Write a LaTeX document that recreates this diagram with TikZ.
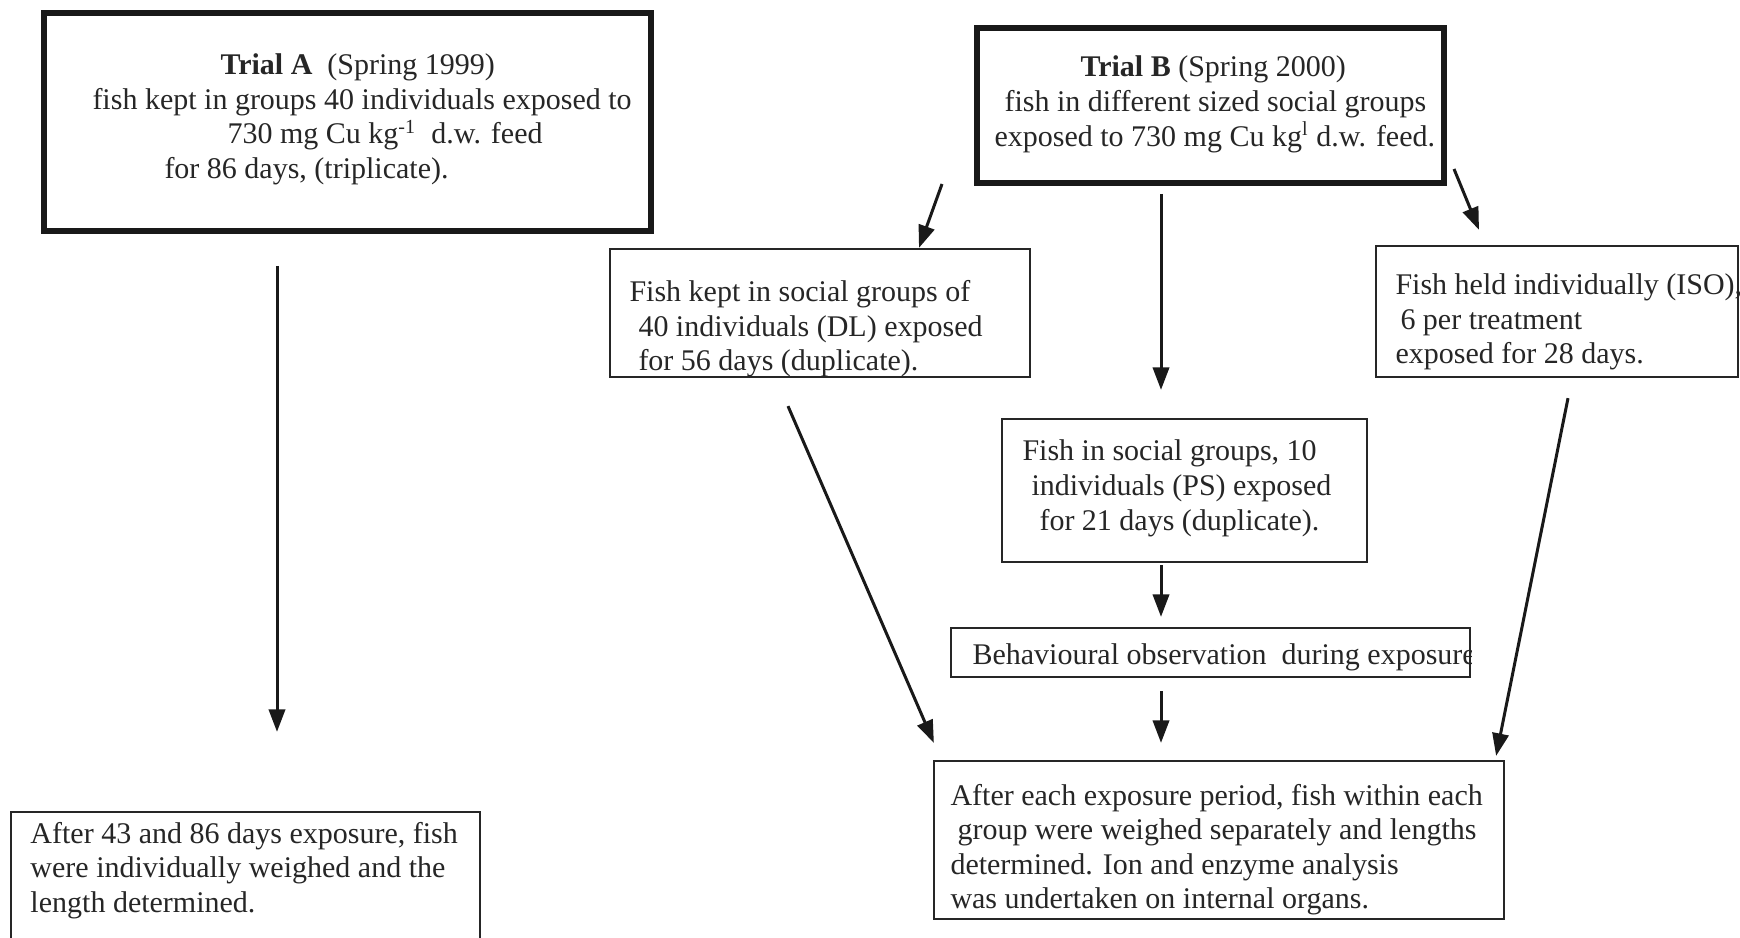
\documentclass[tikz,border=0pt]{standalone}
\usepackage{fontspec}
\setmainfont{Liberation Serif}
\usetikzlibrary{arrows.meta}
\begin{document}
\begin{tikzpicture}[x=0.4pt,y=-0.4pt,
  thickbox/.style={draw=black!90, line width=2.4pt, inner sep=0pt},
  thinbox/.style={draw=black!85, line width=0.9pt, inner sep=0pt},
  txt/.style={inner sep=0pt, anchor=base west, font=\fontsize{12}{13.8}\selectfont, text=black!85},
  arr/.style={draw=black!90, line width=1.2pt, -{Triangle[length=9pt,width=6.5pt]}}]
\useasboundingbox (0,0) rectangle (1740,938);
\clip (0,0) rectangle (1740,938);
% boxes
\node[thickbox, minimum width=242.8pt, minimum height=87.2pt] (TA) at (347.5,122) {};
\node[thickbox, minimum width=186.8pt, minimum height=62pt] (TB) at (1210.5,105.5) {};
\node[thinbox, minimum width=168pt, minimum height=51.2pt] (DL) at (820,313) {};
\node[thinbox, minimum width=144.8pt, minimum height=52.4pt] (ISO) at (1557,311.5) {};
\node[thinbox, minimum width=146pt, minimum height=57.2pt] (PS) at (1184.5,490.5) {};
\node[thinbox, minimum width=207.6pt, minimum height=19.6pt] (Bh) at (1210.5,652.5) {};
\node[thinbox, minimum width=228pt, minimum height=63.2pt] (FR) at (1219,840) {};
\node[thinbox, minimum width=187.6pt, minimum height=59.2pt] (FL) at (245.5,886) {};
% texts
\node[txt] (tA) at (92,75) {\begin{tabular}[t]{@{}l@{}}\hspace*{51.2pt}\textbf{Trial A}\ \ (Spring 1999)\\
fish kept in groups 40 individuals exposed to\\
\hspace*{54pt}730 mg Cu kg\textsuperscript{-1}\ \ d.w. feed\\
\hspace*{28.8pt}for 86 days, (triplicate).\end{tabular}};
\node[txt] (tB) at (994,77) {\begin{tabular}[t]{@{}l@{}}\hspace*{34.4pt}\textbf{Trial B} (Spring 2000)\\
\hspace*{4pt}fish in different sized social groups\\
exposed to 730 mg Cu kg\textsuperscript{l} d.w. feed.\end{tabular}};
\node[txt] (tDL) at (629,302) {\begin{tabular}[t]{@{}l@{}}Fish kept in social groups of\\
\hspace*{3.6pt}40 individuals (DL) exposed\\
\hspace*{3.6pt}for 56 days (duplicate).\end{tabular}};
\node[txt] (tISO) at (1395,295) {\begin{tabular}[t]{@{}l@{}}Fish held individually (ISO),\\
\hspace*{2pt}6 per treatment\\
exposed for 28 days.\end{tabular}};
\node[txt] (tPS) at (1022,461) {\begin{tabular}[t]{@{}l@{}}Fish in social groups, 10\\
\hspace*{3.6pt}individuals (PS) exposed\\
\hspace*{6.8pt}for 21 days (duplicate).\end{tabular}};
\begin{scope}
\clip (Bh.north west) rectangle (Bh.south east);
\node[txt] (tBh) at (972,664) {Behavioural observation\ \ during exposure};
\end{scope}
\node[txt] (tFR) at (950,805) {\begin{tabular}[t]{@{}l@{}}After each exposure period, fish within each\\
\hspace*{2.8pt}group were weighed separately and lengths\\
determined. Ion and enzyme analysis\\
was undertaken on internal organs.\end{tabular}};
\node[txt] (tFL) at (30,843) {\begin{tabular}[t]{@{}l@{}}After 43 and 86 days exposure, fish\\
were individually weighed and the\\
length determined.\end{tabular}};
% arrows
\draw[arr] ([shift={(-70.5,32)}]TA.south) -- ([shift={(31.5,-79)}]FL.north);
\draw[arr] ([shift={(-32,-2)}]TB.south west) -- ([shift={(99,0)}]DL.north);
\draw[arr] ([shift={(-49.5,8)}]TB.south) -- ([shift={(-23.5,-28)}]PS.north);
\draw[arr] ([shift={(7,-17)}]TB.south east) -- ([shift={(-78,-15)}]ISO.north);
\draw[arr] ([shift={(-32,28)}]DL.south) -- ([shift={(1,-17)}]FR.north west);
\draw[arr] ([shift={(-23.5,2)}]PS.south) -- ([shift={(-49.5,-10)}]Bh.north);
\draw[arr] ([shift={(-49.5,13)}]Bh.south) -- ([shift={(-58,-17)}]FR.north);
\draw[arr] ([shift={(11,20)}]ISO.south) -- ([shift={(-9,-4)}]FR.north east);
\end{tikzpicture}
\end{document}
